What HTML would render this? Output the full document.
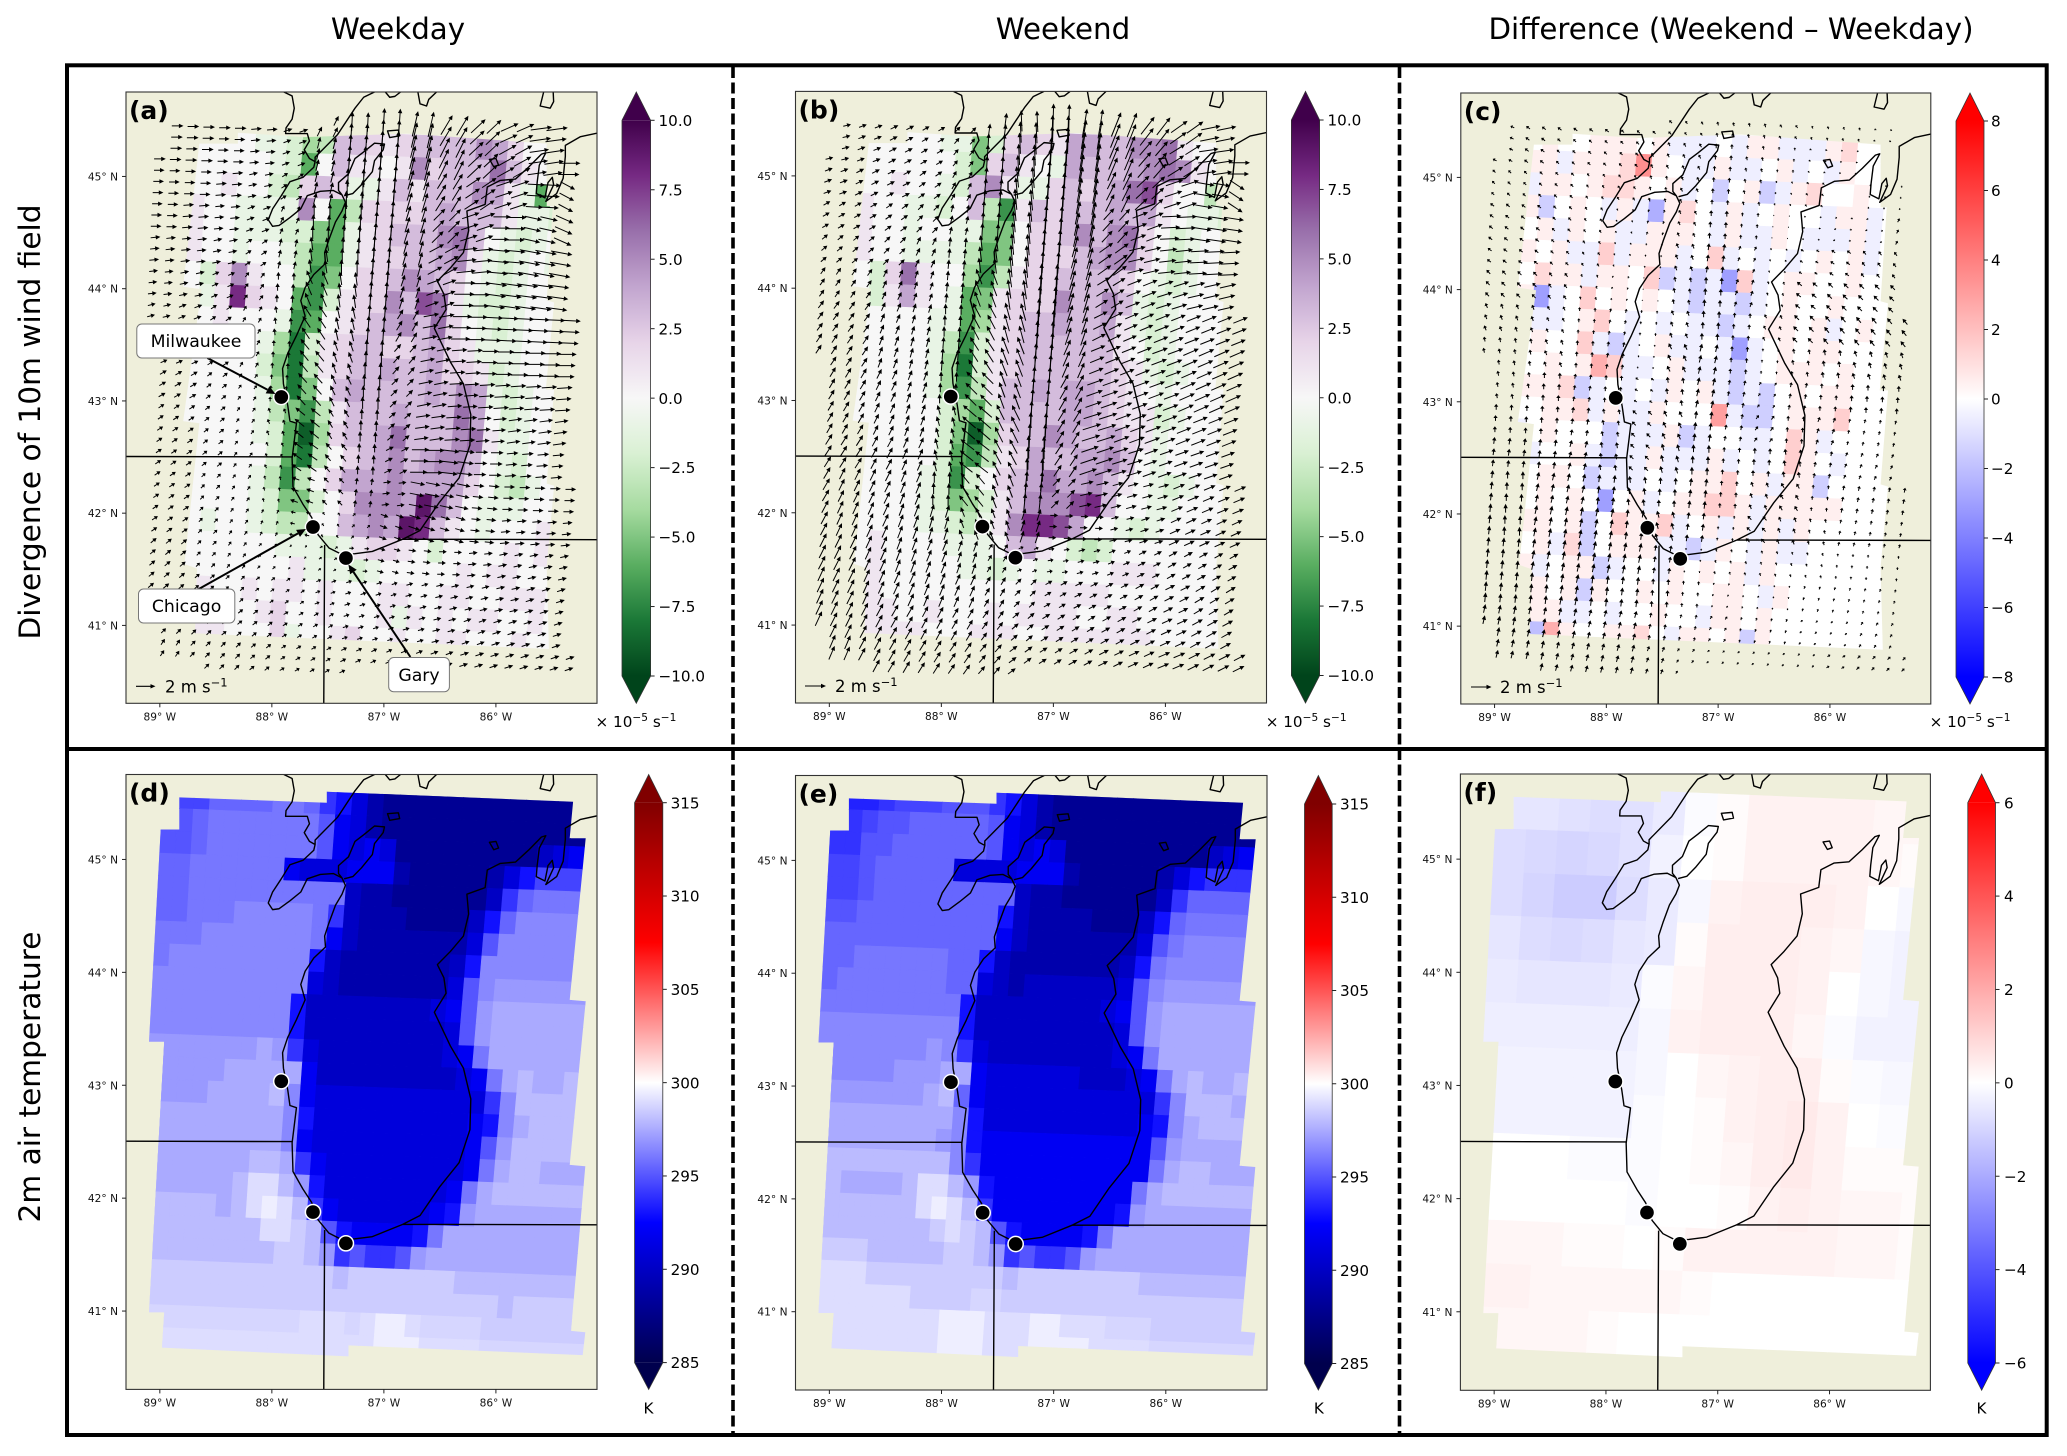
<!DOCTYPE html>
<html lang="en">
<head>
<meta charset="utf-8">
<title>Divergence of 10m wind field and 2m air temperature, weekday versus weekend</title>
<style>
html,body{margin:0;padding:0;background:#fff;width:2067px;height:1456px;overflow:hidden}
svg{display:block;font-family:"DejaVu Sans","Liberation Sans",sans-serif}
</style>
</head>
<body>
<svg id="fig" xmlns="http://www.w3.org/2000/svg" width="2067" height="1456" viewBox="0 0 2067 1456">
<defs>
<path id="coast" fill="none" stroke="#000" stroke-width="1.4" vector-effect="non-scaling-stroke" stroke-linejoin="round" d="M516,33 L535,42 540,70 535,95 521,115 520,128 540,128 570,128 575,145 563,165 575,185 588,192 M725,33 L700,45 680,70 640,130 600,170 588,182 588,192 585,205 560,228 530,238 510,270 490,300 480,325 490,340 505,338 530,320 555,300 570,270 600,260 630,258 650,268 658,285 650,305 635,330 620,370 610,400 612,425 585,450 565,480 555,510 565,545 545,590 525,630 513,665 515,700 525,750 530,785 545,790 540,830 535,870 537,935 560,975 580,1005 595,1045 620,1075 650,1090 680,1088 720,1083 790,1055 830,1035 875,970 920,915 945,840 947,770 930,700 900,650 863,573 890,530 885,495 870,465 900,435 930,400 942,350 938,305 980,290 985,250 1015,235 1050,232 1080,205 1110,175 1120,172 1105,200 1100,240 1098,265 1118,275 1125,240 1135,228 1138,245 1120,283 1145,265 1160,230 1165,180 1165,155 1200,135 1238,127 M650,268 L642,258 642,240 665,220 680,185 700,170 725,150 748,152 745,165 725,190 720,215 695,245 675,265 655,270 M755,122 L780,120 783,133 760,137 Z M750,33 L760,45 772,43 785,33 M825,33 L830,60 845,65 850,50 868,33 M1115,33 L1107,65 1130,70 1138,55 1137,33 M990,187 L1005,185 1011,200 1000,204 Z M152,866 L535,867 M790,1055 L1238,1056 M610,1068 L608,1430"/>
</defs>
<rect width="2067" height="1456" fill="#fff"/>
<text x="398" y="39" font-size="29.3" text-anchor="middle">Weekday</text>
<text x="1063" y="39" font-size="29.3" text-anchor="middle">Weekend</text>
<text x="1731" y="39" font-size="29.3" text-anchor="middle">Difference (Weekend – Weekday)</text>
<text x="0" y="0" font-size="29.6" text-anchor="middle" transform="translate(40,422) rotate(-90)">Divergence of 10m wind field</text>
<text x="0" y="0" font-size="29.6" text-anchor="middle" transform="translate(40,1077) rotate(-90)">2m air temperature</text>
<g id="panels"></g>
<rect x="67" y="65.3" width="1979.7" height="1369.7" fill="none" stroke="#000" stroke-width="4"/>
<line x1="67" y1="749" x2="2046.7" y2="749" stroke="#000" stroke-width="4"/>
<line x1="733" y1="67" x2="733" y2="1433" stroke="#000" stroke-width="3.6" stroke-dasharray="11 4.5"/>
<line x1="1399.5" y1="67" x2="1399.5" y2="1433" stroke="#000" stroke-width="3.6" stroke-dasharray="11 4.5"/>
<g id="annotations"></g>
</svg>
<script>
const latTicks=[45,44,43,42,41];
const lonTicks=[-89,-88,-87,-86];
const divTicks=[10,7.5,5,2.5,0,-2.5,-5,-7.5,-10];
const divDiffTicks=[8,6,4,2,0,-2,-4,-6,-8];
const tempTicks=[315,310,305,300,295,290,285];
const tempDiffTicks=[6,4,2,0,-2,-4,-6];
const cityNames=["Milwaukee","Chicago","Gary"];
const cityLons=[-87.916,-87.633,-87.339];
const cityLats=[43.035,41.877,41.6];

const divWeekday=[
[0,0,0,0,0,0,0,0,0,0,0,0,0,0,0,0,0,0,0,0,0,0,0,0,0,0,0,0,0,0],
[0,0,0,0,0,0,-1,-1,-2,-4,-3,3,3,2,1,2,3,3,3,3,5,4,2,0,0,0,0,0,0,0],
[0,0,0,0,0,0,0,-1,-2,-6,0,3,1,1,0,1,5,2,3,3,3,6,3,1,0,0,0,0,0,0],
[0,0,0,0,1,0,0,-2,-3,2,3,2,-1,-1,1,3,1,3,3,3,5,4,1,-1,-6,0,0,0,0,0],
[0,0,1,0,0,-1,-1,-1,-1,5,0,-6,-3,2,2,2,2,3,4,3,3,3,1,-1,-1,-2,0,0,0,0],
[0,0,1,0,0,-1,-1,-1,-2,-2,-5,-6,-1,1,2,3,3,3,5,6,3,0,-1,-2,-1,0,0,0,0,0],
[0,0,1,0,0,-1,0,0,-1,-3,-6,-6,-1,1,2,2,3,3,4,5,1,-1,-2,-1,0,-1,0,0,0,0],
[0,0,0,-2,2,5,1,0,0,-3,-7,-5,0,2,2,3,5,4,3,2,0,-1,-2,-1,0,0,0,0,0,0],
[0,0,0,-1,1,8,2,1,0,-6,-7,-2,1,2,2,5,3,7,6,1,-1,-2,-2,-1,0,0,0,0,0,0],
[0,0,0,0,1,0,0,0,-1,-7,-6,0,1,2,3,4,5,3,6,2,0,-1,-2,-1,0,0,0,0,0,0],
[0,0,0,0,0,0,0,-1,-4,-8,-2,1,2,3,3,2,2,3,4,2,1,-1,-1,-1,0,0,0,0,0,0],
[0,0,0,0,0,0,0,-2,-5,-8,-3,1,2,3,3,4,3,3,4,2,2,1,-2,-1,0,0,0,0,0,0],
[0,0,0,0,0,0,0,-1,-4,-8,-5,0,3,4,3,3,3,3,4,3,5,4,-1,-2,-1,0,0,0,0,0],
[0,0,0,0,0,0,0,-1,-3,-5,-7,-3,1,3,3,3,4,3,3,3,6,4,0,-2,-1,0,0,0,0,0],
[0,0,0,0,0,0,0,-1,-2,-6,-9,-4,2,3,3,4,6,3,3,3,5,6,1,-1,-1,0,0,0,0,0],
[0,0,0,0,0,0,0,0,-2,-6,-8,-3,0,2,3,4,5,3,4,5,5,3,0,-1,-2,0,0,0,0,0],
[0,0,0,0,0,0,0,-1,-3,-7,-3,0,2,4,4,4,5,4,4,4,4,2,0,-2,-3,-1,0,0,0,0],
[0,0,0,0,0,0,0,-1,-2,-5,-5,-2,0,2,5,5,5,4,9,6,3,0,-1,-1,-1,0,0,0,0,0],
[0,0,0,0,-1,0,0,-1,-2,-3,-3,0,0,3,4,5,4,9,8,3,1,0,-1,0,0,0,1,1,0,0],
[0,0,0,0,0,0,0,0,0,-1,-1,-1,-2,-1,1,2,2,1,0,-2,0,0,0,0,1,0,1,1,0,0],
[0,0,0,0,0,0,0,0,0,0,1,-1,-1,-1,-2,-1,0,0,0,0,0,1,0,1,1,0,0,0,0,0],
[0,0,0,0,1,0,0,1,0,1,1,0,1,0,0,0,1,1,0,0,1,1,0,0,1,1,1,0,0,0],
[0,0,0,0,0,1,0,0,1,2,0,0,1,0,0,0,1,-1,1,0,1,0,1,1,0,0,1,0,0,0],
[0,0,0,0,1,1,0,0,0,2,-1,0,0,1,2,0,0,1,0,0,1,1,0,0,0,1,0,0,0,0],
[0,0,0,0,0,0,0,0,0,0,0,0,0,0,0,0,0,0,0,0,0,0,0,0,0,0,0,0,0,0]];

const divWeekend=[
[0,0,0,0,0,0,0,0,0,0,0,0,0,0,0,0,0,0,0,0,0,0,0,0,0,0,0,0,0,0],
[0,0,0,0,0,0,0,-1,-1,-5,-2,2,3,2,1,4,4,3,3,5,5,6,1,0,0,0,0,0,0,0],
[0,0,0,0,0,0,0,0,-2,-5,2,3,1,0,-1,4,3,3,3,4,5,6,5,1,0,0,0,0,0,0],
[0,0,0,0,1,0,0,-1,-2,3,5,1,-1,-1,2,3,2,3,4,6,7,2,0,0,-3,-1,0,0,0,0],
[0,0,1,0,0,-1,-1,-2,0,3,-3,-7,1,3,2,3,3,3,4,3,4,1,0,-1,-1,-2,-1,0,0,0],
[0,0,1,0,0,-1,0,0,-1,-1,-5,-5,0,2,2,3,5,3,5,6,2,0,-2,-1,0,0,0,0,0,0],
[0,0,1,0,0,-1,-1,-1,-1,-3,-6,-5,0,2,2,2,3,4,5,5,2,0,-3,-1,0,0,0,0,0,0],
[0,0,0,-2,2,6,1,0,0,-4,-7,-3,1,2,2,3,3,3,3,2,0,-1,-2,-1,0,0,0,0,0,0],
[0,0,0,-2,1,4,1,0,-1,-6,-5,1,2,2,2,5,3,3,5,3,-1,-2,-1,0,0,0,0,0,0,0],
[0,0,0,0,0,0,0,-1,-1,-6,-4,1,2,3,3,4,3,3,4,1,-1,-2,-1,0,0,0,0,0,0,0],
[0,0,0,0,0,0,0,-1,-3,-7,-2,1,2,3,3,3,3,3,3,1,0,-2,-1,0,0,0,0,0,0,0],
[0,0,0,0,0,0,0,-1,-4,-8,-2,1,2,3,3,3,3,3,3,2,1,-1,-2,-1,0,0,0,0,0,0],
[0,0,0,0,0,0,0,-1,-4,-7,-3,1,3,3,4,3,4,4,3,2,1,0,-1,0,0,0,0,0,0,0],
[0,0,0,0,0,0,0,0,-2,-4,-6,-2,3,3,3,3,4,4,3,2,1,1,-2,-1,0,0,0,0,0,0],
[0,0,0,0,0,0,0,0,-2,-5,-9,-4,2,3,3,5,4,3,3,4,2,1,-1,0,0,0,0,0,0,0],
[0,0,0,0,0,0,0,0,-2,-6,-7,-3,1,2,4,3,3,4,4,5,3,0,-1,0,0,0,0,0,0,0],
[0,0,0,0,0,0,0,-1,-2,-7,-2,0,2,3,4,6,4,4,5,3,1,0,-1,-2,-1,0,0,0,0,0],
[0,0,0,0,0,0,0,-1,-2,-5,-4,-2,1,3,5,5,5,7,8,3,0,0,-1,-1,0,0,0,0,0,0],
[0,0,0,0,0,0,0,-1,-1,-2,-3,-1,1,5,8,8,7,4,0,0,-1,-2,-1,0,0,0,0,0,0,0],
[0,0,0,0,1,0,0,0,0,-1,-1,-1,0,3,4,1,0,-2,-3,-2,0,0,0,0,0,0,0,0,0,0],
[0,0,0,0,1,0,0,0,0,0,-1,-1,-2,-1,0,-1,-1,0,0,0,1,1,1,0,0,0,0,0,0,0],
[0,0,0,1,1,0,0,0,0,0,0,0,0,0,0,1,1,1,1,1,0,0,0,0,0,0,0,0,0,0],
[0,0,0,1,1,1,0,0,1,0,0,0,1,0,1,1,1,1,0,0,1,1,0,0,0,0,0,0,0,0],
[0,0,0,1,1,1,1,1,0,0,0,1,1,1,0,0,1,1,1,1,1,1,1,0,0,0,0,0,0,0],
[0,0,0,0,0,0,0,0,0,0,0,0,0,0,0,0,0,0,0,0,0,0,0,0,0,0,0,0,0,0]];

const divDifference=[
[0,0,0,0,0,0,0,0,0,0,0,0,0,0,0,0,0,0,0,0,0,0,0,0,0,0,0,0,0,0],
[0,0,0,.5,0,0,.5,.5,.5,0,.5,-.5,-.5,-.5,0,-.5,.5,.5,-.5,-.5,-.5,.5,1.2,0,0,0,0,0,0,0],
[0,0,.5,.5,-.5,.5,.5,.5,1.2,3.5,.5,0,-.5,-.5,.5,-.5,-.5,0,.5,-.5,0,-.5,.5,0,0,0,0,0,0,0],
[0,.5,-.5,.5,.5,0,.5,1.2,1.2,.5,0,.5,-.5,0,-1.5,0,.5,-1.5,-.5,.5,1.2,0,0,.5,0,0,0,0,0,0],
[0,-.5,.5,-1.5,0,.5,0,-.5,.5,-.5,-2.5,.5,1.2,0,-.5,.5,-.5,0,.5,0,0,-.5,.5,.5,-.5,0,0,0,0,0],
[.5,.5,0,.5,-.5,.5,0,.5,-.5,-.5,.5,.5,.5,0,-.5,.5,-.5,-.5,.5,0,-.5,-.5,-.5,.5,-.5,0,0,0,0,0],
[.5,.5,.5,0,.5,-.5,-.5,1.5,-.5,.5,.5,.5,-.5,0,1.5,-.5,0,-.5,0,-.5,0,.5,0,.5,-.5,0,0,0,0,0],
[.5,.5,0,1.2,.5,.5,-.5,.5,.5,0,1.5,-1.5,-.5,-1.5,-.5,-3,1.5,-.5,0,.5,.5,0,0,.5,0,0,0,0,0,0],
[-.5,.5,.5,-3,-.5,0,1.5,0,.5,0,.5,0,-.5,-1.5,-.5,-.5,-1.5,-.5,0,.5,0,0,.5,0,0,0,0,0,0,0],
[-.5,1.5,.5,-.5,-.5,0,.5,1.5,0,-.5,0,-.5,0,-.5,-.5,-1.5,-.5,0,.5,.5,0,.5,-.5,0,.5,0,0,0,0,0],
[-.5,.5,0,.5,0,0,1.5,-.5,-1.5,-.5,0,.5,-.5,-.5,0,-.5,-3,-.5,0,.5,0,.5,.5,0,0,0,0,0,0,0],
[1.5,.5,0,0,.5,0,.5,2.5,1.5,-.5,-.5,0,.5,-.5,-.5,-.5,-1.5,-.5,0,.5,.5,.5,0,.5,0,0,0,0,0,0],
[.5,.5,.5,.5,.5,1.2,-1.5,-.5,0,-.5,0,-.5,.5,0,.5,-.5,-1.5,-.5,-1.5,0,.5,0,.5,.5,0,0,0,0,0,0],
[-.5,.5,0,0,.5,.5,1.2,-.5,.5,-.5,-.5,.5,0,0,0,3,-.5,-1.5,-1.5,0,.5,.5,.5,1.5,0,0,0,0,0,0],
[0,.5,-.5,0,.5,0,0,0,-1.5,-.5,-.5,-.5,.5,-1.5,-.5,0,0,-.5,-.5,0,1.5,.5,-.5,0,0,0,0,0,0,0],
[0,0,.5,-.5,0,0,.5,-.5,-1.5,-.5,-.5,.5,-.5,-.5,-.5,.5,-.5,0,-.5,0,1.5,.5,0,-.5,0,0,0,0,0,0],
[0,.5,0,0,.5,.5,0,-1.5,-.5,-.5,-.5,0,-.5,0,.5,.5,1.5,0,.5,-.5,.5,.5,-1.5,0,0,0,0,0,0,0],
[.5,.5,-.5,0,.5,0,.5,0,-3,0,.5,-.5,0,.5,.5,1.5,1.5,.5,-.5,.5,.5,.5,.5,.5,0,0,0,0,0,0],
[1.5,.5,0,.5,.5,0,.5,-1.5,0,1.5,.5,.5,1.5,-.5,0,.5,-.5,.5,-.5,.5,-.5,.5,0,0,0,0,0,0,0,0],
[2,.5,-.5,0,.5,-.5,1.2,-1.5,0,.5,.5,.5,-.5,-.5,-1.5,-.5,.5,0,-.5,.5,-.5,-.5,0,0,0,0,0,0,0,0],
[.5,0,0,.5,-.5,0,.5,.5,-1.5,-.5,0,0,-.5,.5,0,.5,0,.5,-.5,.5,0,0,0,0,0,0,0,0,0,0],
[1.5,.5,1.5,0,.5,0,.5,-1.5,.5,0,0,.5,0,.5,0,0,.5,.5,0,-.5,.5,0,0,0,0,0,0,0,0,0],
[.5,0,.5,0,.5,.5,-.5,-.5,0,-.5,0,0,.5,0,0,-.5,.5,.5,0,.5,0,0,0,0,0,0,0,0,0,0],
[.5,2.5,0,0,-2,2.5,.5,0,0,.5,.5,1.2,0,-.5,.5,.5,0,.5,-1.5,.5,0,0,0,0,0,0,0,0,0,0],
[0,0,0,0,0,0,0,0,0,0,0,0,0,0,0,0,0,0,0,0,0,0,0,0,0,0,0,0,0,0]];

const tempWeekday=[
[295,294.5,294.5,295.5,295.5,295.5,295.5,296,296,295.5,294,293,291,289,288,288,288,288,288,288,288,288,288,288,288,288,288,288,288,288],
[295,295,295.5,296,296,296,296,296,296,296,295,292,291,289,288,288,288,288,288,288,288,288,288,288,288,288,288,288,288,288],
[295,295,295.5,296,296,296,296,296,296,296,295,292,291,292,291,288,288,288,288,288,288,288,288,288,290,291,292,292,292,292],
[295.5,295.5,296,296,296,296,296,296,292,291,291,291,292,292,292,289,288,288,288,288,288,289,291,293,294.5,294.5,294.5,293,293,293],
[295.5,295.5,296,296,296,296,296,296,296,296,296,296,290,289,289,288,288,288,288,288,288,290,294,295.5,296,296,296,296,296,296],
[295.5,295.5,296,296,296,296.5,296.5,296.5,296.5,296.5,296,294,290,289,289,289,288,288,288,288,290,293,295.5,296.5,296.5,296.5,296.5,296.5,296.5,296.5],
[296,296,296,296.5,296.5,296.5,296.5,296.5,296.5,296.5,296,292,290,289,289,289,289,289,289,289,291,295,296.5,296.5,296.5,296.5,296.5,296.5,296.5,296.5],
[296,296.5,296.5,296.5,296.5,296.5,296.5,296.5,296.5,296.5,293,290,289,289,289,289,289,289,289,290,293,296.5,296.5,296.5,296.5,296.5,296.5,296.5,296.5,296.5],
[296.5,296.5,296.5,296.5,296.5,296.5,296.5,296.5,296.5,296.5,291,290,289,289,289,289,289,289,289,291,295,296.5,297,297,297,297,297,297,297,297],
[296.5,296.5,296.5,296.5,296.5,296.5,296.5,296.5,296.5,293,290,290,290,290,290,290,290,290,291,292,295,297,297.5,297.5,297.5,297.5,297.5,297.5,297.5,297.5],
[296.5,296.5,296.5,296.5,296.5,296.5,296.5,296.5,296.5,293,290,290,290,290,290,290,290,290,290,291,295,297,297.5,297.5,297.5,297.5,297.5,297.5,297.5,297.5],
[297,297,297,297,297,297,297,297.5,297,294,291,290,290,290,290,290,290,290,290,291,292,296,297.5,297.5,297.5,297.5,297.5,297.5,297.5,297.5],
[297,297,297,297,297,297.5,297.5,297.5,297.5,297.5,292,290,290,290,290,290,290,290,290,290,291,292,296,297.5,298,297.5,297.5,298,297.5,297.5],
[297,297,297,297,297.5,297.5,297.5,297.5,298,296.5,292,291,291,291,291,291,291,291,291,291,291,291,294,296.5,298,298,298,298,297.5,297.5],
[297.5,297.5,297.5,297.5,297.5,297.5,297.5,297.5,297.5,296.5,293,291,291,291,291,291,291,291,291,291,291,292,293,296.5,297.5,298,298,298,297.5,297.5],
[297.5,297.5,297.5,297.5,297.5,297.5,297.5,297.5,297.5,296.5,292,291,291,291,291,291,291,291,291,291,291,292,295,297,298,298,298,298,297.5,297.5],
[297.5,297.5,297.5,297.5,297.5,297.5,297.5,298,298,297.5,294,292,291,291,291,291,291,291,291,291,291,292,296,297.5,298,298,297.5,297.5,297.5,297.5],
[298,297.5,297.5,297.5,297.5,297.5,298,299,299,298,297,293,291,291,291,291,291,291,291,291,292,296,297.5,298,298,298,298,298,298,298],
[298,298,298,298,298,297.5,298,299,299.5,299,298,294,292,291,291,291,291,291,291,292,293,297,297.5,297.5,297.5,297.5,297.5,297.5,297.5,297.5],
[298,298,298,298,298,298,298,298,299,299,298.5,298,295,293,292,292,292,292,293,296,297.5,297.5,297.5,297.5,297.5,297.5,297.5,297.5,297.5,297.5],
[298,298,298,298,298,298,298,298,298,298.5,298.5,298,297,294,295,294,294,295,297,297.5,297.5,297.5,297.5,297.5,297.5,297.5,297.5,297.5,297.5,297.5],
[298.5,298.5,298.5,298.5,298.5,298.5,298.5,298.5,298.5,298.5,298.5,298.5,298.5,298,298.5,298.5,298.5,298.5,298.5,298.5,298.5,298,298,298,298,298,298,298,298,298],
[298.5,298.5,298.5,298.5,298.5,298.5,298.5,298.5,298.5,298.5,298.5,298.5,298.5,298.5,298.5,298.5,298.5,298.5,298.5,298.5,298.5,298.5,298.5,298.5,298,298.5,298.5,298.5,298.5,298.5],
[298.8,298.8,298.8,298.8,298.8,298.8,298.8,298.8,298.8,298.8,298.8,299,299,299,298.8,299,299.5,299.5,299,298.8,298.8,298.8,298.8,298.5,298.5,298.5,298.5,298.5,298.5,298.5],
[299,299,299,299,299,299,299,299,299,299,299,299,299,299,299,299,299.5,299.5,299.5,299,299,299,299,298.8,298.8,298.8,298.8,298.8,298.8,298.8]];

const tempWeekend=[
[294.5,293.5,293.5,294,294.5,294.5,294.5,295,295,295,294,293,291,289,288,288,288,288,288,288,288,288,288,288,288,288,288,288,288,288],
[294,294,294.5,295,295,295.5,295.5,295.5,295.5,295.5,295,292,291,289,288,288,288,288,288,288,288,288,288,288,288,288,288,288,288,288],
[294,294,295,295,295.5,295.5,295.5,295.5,295.5,295.5,295,292,291,292,291,288,288,288,288,288,288,288,288,288,290,291,292,292,292,292],
[294.5,294.5,295,295.5,295.5,295.5,295.5,295.5,291,291,291,291,292,292,292,289,288,288,288,288,288,289,291,293,294,294,294,293,293,293],
[294.5,294.5,295,295.5,295.5,295.5,295.5,295.5,295.5,295.5,295.5,295.5,290,289,289,288,288,288,288,288,288,290,294,295.5,295.5,295.5,295.5,295.5,295.5,295.5],
[295,295,295.5,295.5,295.5,295.5,295.5,295.5,295.5,295.5,295.5,293,290,289,289,289,289,288,288,288,290,293,295.5,296,296,296,296,296,296,296],
[295.5,295.5,295.5,295.5,295.5,295.5,295.5,295.5,295.5,295.5,295.5,292,290,289,289,289,289,289,289,289,291,295,296,296.5,296.5,296.5,296.5,296.5,296.5,296.5],
[295.5,295.5,296,296,296,296,296,296,295.5,295.5,293,290,289,289,289,289,289,289,289,290,293,296,296.5,296.5,296.5,296.5,296.5,296.5,296.5,296.5],
[295.5,296,296,296,296,296,296,296,295.5,295.5,291,290,289,290,290,290,290,290,290,291,295,296.5,297,297,297,297,297,297,297,297],
[296,296,296,296,296,296,296,296,296,293,290,290,290,290,290,290,290,290,291,292,295,297,297.5,297.5,297.5,297.5,297.5,297.5,297.5,297.5],
[296.5,296.5,296.5,296.5,296.5,296.5,296.5,296.5,296.5,293,290,290,290,290,290,290,290,290,290,291,295,297,297.5,297.5,297.5,297.5,297.5,297.5,297.5,297.5],
[296.5,296.5,296.5,296.5,296.5,296.5,296.5,297,296.5,294,291,290,290,290,290,290,290,290,290,291,292,296,297.5,297.5,297.5,297.5,297.5,297.5,297.5,297.5],
[296.5,296.5,296.5,296.5,296.5,297,297,297,297.5,297.5,292,291,291,291,291,291,291,290,290,290,291,292,296,297.5,298,297.5,297.5,298,297.5,297.5],
[297,297,297,297,297,297,297,297.5,298,295.5,292,291,291,291,291,291,291,291,291,291,291,291,294,296.5,298,298,298,297.5,297.5,297.5],
[297.5,297.5,297.5,297.5,297.5,297.5,297.5,297.5,297.5,296.5,293,291,291,291,291,291,291,291,291,291,291,292,293,296.5,297.5,298,298,298,297.5,297.5],
[297.5,297.5,297.5,297.5,297.5,297.5,297.5,297.5,297,296.5,293,292,292,292,292,292,292,292,292,292,292,292,295,297,297.5,297.5,297.5,297.5,297.5,297.5],
[298,298,298,298,298,298,298,298,298,296.5,294,292,292,292,292,292,292,292,292,292,292,292,296,297.5,298,298,297.5,297.5,297.5,297.5],
[298,298,297.5,297.5,297.5,297.5,298,299,299,298,297,293,292,292,292,292,292,292,292,292,292,296,297.5,298,298,298,298,298,298,298],
[298,298,298,298,298,298,298,299,299.5,299,298,294,292,292,292,292,292,292,292,292,293,297,297.5,297.5,297.5,297.5,297.5,297.5,297.5,297.5],
[298,298,298,298,298,298,298,298,298.5,299,298.5,298,295,293,292,292,292,292,293,296,297.5,297.5,297.5,297.5,297.5,297.5,297.5,297.5,297.5,297.5],
[298.5,298.5,298.5,298.5,298,298,298,298,298,298.5,298.5,298,297,294,295,294,294,295,297,297.5,297.5,297.5,297.5,297.5,297.5,297.5,297.5,297.5,297.5,297.5],
[299,299,299,299,298.5,298.5,298.5,298.5,298.5,298.5,298.5,298.5,298.5,298,298.5,298.5,298.5,298.5,298.5,298.5,298.5,298.5,298,298,298,298,298,298,298,298],
[299,299,299,299,299,299,299,298.5,298.5,298.5,298.5,298.8,298.8,298.5,298.5,298.5,298.5,298.5,298.5,298.5,298.5,298.5,298.5,298.5,298.5,298.5,298.5,298.5,298.5,298.5],
[299,299,299,299,299,299,299,299,299,299.5,299.5,299.5,299,299,299,299.5,299.5,299,299,299,298.8,298.8,298.8,298.5,298.5,298.5,298.5,298.5,298.5,298.5],
[299,299,299,299,299,299,299,299,299,299.5,299.5,299.5,299,299,299,299.5,299.5,299.5,299.5,299,299,299,299,298.8,298.8,298.8,298.8,298.8,298.8,298.8]];

const tempDifference=[
[-.6,-.6,-.7,-.8,-.7,-.5,-.1,.1,.3,.3,.3,.3,.2,.2,.1],
[-.8,-.9,-1,-.9,-.7,-.3,0,.1,.3,.3,.3,.3,.2,.1,0],
[-.8,-1,-1.2,-1.2,-.8,-.5,-.2,.3,.4,.4,.4,.3,0,-.2,-.2],
[-.6,-.8,-.9,-.8,-.6,-.5,.1,.4,.4,.4,.3,.2,-.2,-.3,-.3],
[-.5,-.6,-.6,-.6,-.5,-.1,.2,.4,.4,.4,.3,0,-.2,-.3,-.3],
[-.4,-.4,-.4,-.4,-.4,-.2,.3,.4,.4,.4,.2,-.1,-.3,-.3,-.2],
[-.3,-.3,-.3,-.3,-.3,-.2,0,.2,.3,.4,.4,.1,-.1,-.2,-.1],
[-.3,-.3,-.3,-.3,-.3,-.1,0,.1,.3,.4,.5,.3,0,-.1,-.1],
[0,0,0,-.1,-.1,-.1,0,.1,.2,.4,.5,.3,.1,.1,.1],
[0,0,0,0,0,-.1,0,0,.1,.3,.4,.3,.2,.2,.1],
[.2,.2,.2,.1,.1,0,.1,.3,.3,.3,.3,.3,.2,.2,.1],
[.3,.3,.2,.2,.2,.2,.2,.1,0,0,0,0,0,0,0],
[.2,.2,.2,.2,.1,0,0,0,0,0,0,0,0,0,0]];

const windWeekdayU=[
[12,12,12,11,9,5,1,2,6,12,15,18,22,24,24,24],
[12,12,11,10,8,3,1,2,6,10,15,18,20,22,22,22],
[11,11,11,9,6,3,0,2,6,10,15,18,18,15,15,15],
[11,11,10,8,3,0,0,2,5,12,18,18,18,18,18,18],
[10,10,9,6,2,-2,0,1,4,15,20,22,22,22,22,22],
[9,9,7,4,0,-6,-2,1,4,14,21,22,22,22,22,22],
[8,8,6,3,-1,-8,-3,1,6,16,20,20,20,20,20,20],
[7,7,6,3,0,-9,-4,0,7,15,16,17,18,18,18,18],
[7,7,5,3,0,-9,-5,0,7,15,15,16,16,16,16,16],
[6,6,5,3,-2,-10,-5,0,7,15,16,14,14,14,14,14],
[6,6,5,3,-2,-10,-6,0,8,18,17,13,12,12,12,12],
[6,6,4,3,-1,-8,-5,1,8,15,14,11,11,11,11,11],
[6,6,4,3,2,-5,-2,3,8,12,10,10,10,10,10,10],
[6,6,4,3,3,2,3,5,7,8,8,9,9,9,9,9],
[6,6,5,4,4,4,5,6,6,7,8,8,9,9,9,9],
[5,5,5,5,5,5,5,6,6,7,8,8,9,9,9,9],
[4,4,5,5,5,5,5,6,6,7,8,9,9,9,9,9]];
const windWeekdayV=[
[0,0,0,1,3,10,20,30,26,20,14,8,3,1,1,1],
[0,0,0,1,3,12,20,30,24,20,14,10,3,0,0,0],
[0,0,1,2,4,12,19,28,20,16,10,6,-1,-8,-10,-12],
[0,1,1,3,6,14,18,25,16,12,6,0,-4,-8,-8,-8],
[1,1,2,4,8,14,16,22,14,8,2,-2,-4,-4,-4,-4],
[1,2,3,5,8,14,14,20,12,5,0,-3,-3,-3,-3,-3],
[2,3,4,5,7,12,13,18,10,3,0,-1,-1,-1,-1,-1],
[3,3,4,5,6,11,11,15,8,3,1,0,0,0,0,0],
[4,4,4,4,5,10,10,13,7,3,1,1,1,1,1,1],
[4,4,4,4,5,8,8,11,6,2,1,1,2,2,2,2],
[4,4,4,4,4,7,7,9,4,0,-2,0,1,1,1,1],
[4,4,4,4,4,3,5,7,1,-3,-3,-1,0,0,0,0],
[4,4,4,4,4,1,3,3,-3,-4,-3,-1,1,1,1,1],
[5,5,4,4,3,2,2,0,-2,-1,0,1,2,2,2,2],
[5,5,4,4,3,3,2,2,2,2,2,2,2,3,3,3],
[6,5,5,4,4,3,3,2,2,2,2,3,3,3,3,3],
[6,6,5,5,4,3,3,3,3,3,3,3,3,3,3,3]];
const windWeekendU=[
[8,8,8,7,6,2,-1,1,5,10,14,17,20,22,22,22],
[8,8,8,7,5,1,-1,2,5,10,13,16,20,22,22,22],
[8,8,8,7,4,2,-2,2,5,9,13,18,18,15,15,15],
[7,7,7,6,2,1,-2,2,5,11,16,20,20,20,20,20],
[6,6,6,4,1,-2,-2,2,6,14,17,18,19,19,19,19],
[5,5,4,3,1,-6,-3,1,6,13,15,16,17,17,17,17],
[6,6,4,3,0,-8,-5,1,6,14,14,15,15,15,15,15],
[6,6,4,3,1,-9,-7,2,7,15,15,16,16,16,16,16],
[6,6,5,4,0,-12,-6,2,8,17,16,16,16,16,16,16],
[6,6,5,4,-3,-14,-8,1,8,19,16,16,15,15,15,15],
[7,7,6,5,-3,-14,-8,0,8,18,16,14,14,14,14,14],
[7,6,6,5,0,-9,-5,2,8,13,11,11,12,12,12,12],
[7,6,6,5,4,-4,-4,4,8,8,8,9,11,11,11,11],
[7,7,6,5,5,4,4,5,6,7,7,8,9,9,9,9],
[7,7,6,6,5,5,5,6,7,8,8,9,10,10,10,10],
[7,7,7,7,6,6,6,7,8,8,9,10,11,11,11,11],
[6,6,7,7,7,7,7,8,8,9,10,11,12,12,12,12]];
const windWeekendV=[
[2,3,4,4,6,15,22,38,30,25,18,12,4,1,1,1],
[2,3,4,4,6,18,22,38,28,24,15,10,3,0,0,0],
[3,4,4,5,7,18,22,36,26,18,12,6,-3,-10,-10,-10],
[4,4,5,6,8,18,22,36,24,12,6,1,-3,-3,-3,-3],
[5,5,6,8,10,16,22,34,22,10,4,2,1,1,1,1],
[7,7,8,8,10,16,20,32,20,8,6,5,4,4,4,4],
[8,8,9,9,11,15,18,30,18,7,6,6,6,6,6,6],
[9,9,10,10,12,14,18,30,16,6,6,6,7,7,7,7],
[10,10,10,10,10,12,16,28,14,6,6,6,7,7,7,7],
[10,10,10,10,10,12,16,26,13,6,6,6,6,6,6,6],
[11,11,11,11,11,11,15,24,12,6,5,5,5,5,5,5],
[12,12,12,12,12,11,13,20,8,3,3,3,5,5,5,5],
[13,13,13,13,13,10,10,12,0,0,2,3,5,5,5,5],
[14,14,13,13,12,11,6,2,1,2,3,4,5,5,5,5],
[15,14,13,13,12,11,8,6,4,4,4,5,5,6,6,6],
[15,14,13,12,11,10,8,6,5,5,5,5,5,6,6,6],
[14,14,13,12,11,10,8,6,5,5,5,5,5,6,6,6]];
const windDiffU=[
[-4,-4,-4,-4,-3,-3,-2,-1,-1,-2,-1,-1,-2,-2,-2,-2],
[-4,-4,-3,-3,-3,-2,-2,0,-1,0,-2,-2,0,0,0,0],
[-3,-3,-3,-2,-2,-1,-2,0,-1,-1,-2,0,0,0,0,0],
[-4,-4,-3,-2,-1,1,-2,0,0,-1,-2,2,2,2,2,2],
[-4,-4,-3,-2,-1,0,-2,1,2,-1,-3,-4,-3,-3,-3,-3],
[-4,-4,-3,-1,1,0,-1,0,2,-1,-5,-5,-5,-5,-5,-5],
[-2,-2,-2,0,1,0,-2,0,0,-2,-5,-5,-5,-5,-5,-5],
[-1,-1,-2,0,1,0,-3,2,0,0,-1,-1,-2,-2,-2,-2],
[-1,-1,0,1,0,-3,-1,2,1,2,1,0,0,0,0,0],
[0,0,0,1,-1,-4,-3,1,1,3,0,2,1,1,1,1],
[1,1,1,2,-1,-4,-2,0,0,0,-1,1,2,2,2,2],
[1,0,2,2,1,-1,0,1,0,-2,-3,0,1,1,1,1],
[1,0,2,2,2,1,-2,1,0,-4,-2,-1,1,1,1,1],
[1,1,2,2,2,2,1,0,-1,-1,-1,-1,0,0,0,0],
[1,1,1,2,1,1,0,0,1,1,0,1,1,1,1,1],
[2,2,2,2,2,2,1,1,2,1,1,2,2,2,2,2],
[2,2,2,2,2,2,2,2,2,2,2,2,3,3,3,3]];
const windDiffV=[
[2,3,3,3,3,3,3,4,4,3,3,3,1,0,0,0],
[2,3,3,3,3,4,4,5,4,3,1,0,0,0,0,0],
[3,3,3,3,3,4,4,5,4,2,2,0,-2,-2,0,2],
[3,3,3,3,2,3,4,6,4,0,0,1,1,4,4,4],
[3,3,3,3,2,2,5,7,4,2,2,3,4,4,4,4],
[4,4,4,3,2,1,5,7,5,3,4,5,5,5,5,5],
[5,5,4,4,4,3,5,7,5,4,5,6,6,6,6,6],
[5,5,5,5,5,2,6,8,5,3,5,6,6,6,6,6],
[5,5,6,5,5,2,6,8,5,3,5,5,6,6,6,6],
[6,6,6,6,5,4,6,8,5,4,5,5,4,4,4,4],
[7,7,7,7,6,4,7,8,5,6,6,5,4,4,4,4],
[8,8,8,8,8,7,7,8,5,5,5,4,5,5,5,5],
[9,9,9,9,9,8,7,7,3,4,5,4,4,4,4,4],
[9,9,9,9,9,9,6,2,3,3,3,3,3,3,3,3],
[10,9,9,9,9,8,6,4,2,2,2,3,3,3,3,3],
[9,9,8,8,7,7,5,4,3,3,3,2,2,3,3,3],
[8,8,8,7,7,7,5,3,2,2,2,2,2,3,3,3]];

/* colour maps */
const cmapPRGn=[[0,[0,68,27]],[.1,[27,120,55]],[.2,[90,174,97]],[.3,[166,219,160]],[.4,[217,240,211]],[.5,[247,247,247]],[.6,[231,212,232]],[.7,[194,165,207]],[.8,[153,112,171]],[.9,[118,42,131]],[1,[64,0,75]]];
const cmapBwr=[[0,[0,0,255]],[.5,[255,255,255]],[1,[255,0,0]]];
const cmapSeismic=[[0,[0,0,77]],[.25,[0,0,255]],[.5,[255,255,255]],[.75,[255,0,0]],[1,[128,0,0]]];

/* figure layout (base-map outlines in map-trace units) */
const tempOutline=[275,85,615,97,615,72,1183,95,1175,178,1212,178,1175,545,1212,548,1175,920,1211,923,1178,1297,1211,1300,1205,1352,665,1330,665,1355,235,1335,240,1255,205,1255,240,640,205,640,232,158,275,158];
const divOutline=[321,151,410,151,410,126,562,136,800,128,1122,151,1122,294,1136,294,1122,509,1139,514,1120,713,1139,713,1122,928,1139,933,1122,1117,1127,1306,311,1270,316,1122,287,1112,321,790,284,785,326,484,284,478];

const panels=[
{id:'a',x0:126,x1:597,y0:92,y1:703.3,cells:divWeekday,cmap:cmapPRGn,vmin:-10,vmax:10,outline:divOutline,u:windWeekdayU,v:windWeekdayV,cb:[622,650.6,92,120.3,676,703.3],ticks:divTicks,fmt:1,tickX:658.5,unitX:595.5,keyX:[136,155.5],keyT:165},
{id:'b',x0:795.5,x1:1266.5,y0:91.4,y1:703,cells:divWeekend,cmap:cmapPRGn,vmin:-10,vmax:10,outline:divOutline,u:windWeekendU,v:windWeekendV,cb:[1291.4,1319.6,91.4,120,675.5,703],ticks:divTicks,fmt:1,tickX:1327.5,unitX:1265.7,keyX:[805,826],keyT:835},
{id:'c',x0:1460.8,x1:1930.8,y0:93,y1:704,cells:divDifference,cmap:cmapBwr,vmin:-8,vmax:8,outline:divOutline,u:windDiffU,v:windDiffV,cb:[1956,1984,93,121,677,704],ticks:divDiffTicks,fmt:0,tickX:1991,unitX:1929.6,keyX:[1471,1491.5],keyT:1500},
{id:'d',x0:126,x1:597,y0:774.5,y1:1389.4,cells:tempWeekday,cmap:cmapSeismic,vmin:285,vmax:315,outline:tempOutline,cb:[634.6,662.8,774.5,802.7,1362.6,1389.4],ticks:tempTicks,fmt:0,tickX:670.6,unitK:648.5},
{id:'e',x0:795.5,x1:1267,y0:775.5,y1:1390,cells:tempWeekend,cmap:cmapSeismic,vmin:285,vmax:315,outline:tempOutline,cb:[1304.5,1332.2,775.5,804,1363.5,1390],ticks:tempTicks,fmt:0,tickX:1340,unitK:1318.8},
{id:'f',x0:1460.4,x1:1930.4,y0:774,y1:1390.3,cells:tempDifference,cmap:cmapBwr,vmin:-6,vmax:6,outline:tempOutline,cb:[1967.8,1995.5,774,802.7,1363,1390.3],ticks:tempDiffTicks,fmt:0,tickX:2004,unitK:1981.5}
];

const NS='http://www.w3.org/2000/svg';
function make(tag,attrs,parent){
  const el=document.createElementNS(NS,tag);
  for(const k in attrs)el.setAttribute(k,attrs[k]);
  if(parent)parent.appendChild(el);
  return el;
}
function colorAt(cmap,t){
  t=Math.max(0,Math.min(1,t));
  for(let i=1;i<cmap.length;i++){
    if(t<=cmap[i][0]){
      const a=cmap[i-1],b=cmap[i],f=(t-a[0])/(b[0]-a[0]);
      return 'rgb('+[0,1,2].map(j=>Math.round(a[1][j]+(b[1][j]-a[1][j])*f)).join(',')+')';
    }
  }
  return 'rgb('+cmap[cmap.length-1][1].join(',')+')';
}
/* grid geometry: fractional column/row to map-trace units */
const GRID_COLS=30,GRID_ROWS=50;
function gridPoint(c,r){
  const y=58+r*25.6+1.37*c;
  const x0=237.5-.057*(y-59);
  const w=36.4-.00134*(y-178);
  return [x0+c*w,y];
}
function inPoly(p,poly){
  let inside=false;const n=poly.length/2;
  for(let i=0,j=n-1;i<n;j=i++){
    const xi=poly[2*i],yi=poly[2*i+1],xj=poly[2*j],yj=poly[2*j+1];
    if((yi>p[1])!==(yj>p[1])&&p[0]<(xj-xi)*(p[1]-yi)/(yj-yi)+xi)inside=!inside;
  }
  return inside;
}
const root=document.getElementById('panels');

panels.forEach(p=>{
  const sx=(p.x1-p.x0)/(1238-152),sy=(p.y1-p.y0)/(1430-33);
  const px=z=>p.x0+(z-152)*sx, py=z=>p.y0+(z-33)*sy;
  const lonX=lon=>px(230+258.3*(lon+89));
  const latY=lat=>py(226+256.5*(45-lat));

  const g=make('g',{},root);
  
  

  const bg=make('rect',{x:p.x0,y:p.y0,width:p.x1-p.x0,height:p.y1-p.y0,fill:'#efefdb'},g);
  
  

  const cpMap=make('clipPath',{id:'map-'+p.id},g);
  make('rect',{x:p.x0,y:p.y0,width:p.x1-p.x0,height:p.y1-p.y0},cpMap);
  const cpData=make('clipPath',{id:'data-'+p.id},g);
  const pts=[];
  for(let i=0;i<p.outline.length;i+=2)pts.push(px(p.outline[i]).toFixed(1)+','+py(p.outline[i+1]).toFixed(1));
  make('polygon',{points:pts.join(' ')},cpData);

  /* heatmap */
  const hm=make('g',{'clip-path':'url(#data-'+p.id+')'},g);
  
  
  const nr=p.cells.length,nc=p.cells[0].length;
  const cw=GRID_COLS/nc,rh=GRID_ROWS/nr;
  for(let r=0;r<nr;r++)for(let c=0;c<nc;c++){
    const val=p.cells[r][c];
    if(val===null)continue;
    const q=[gridPoint(c*cw,r*rh),gridPoint((c+1)*cw,r*rh),gridPoint((c+1)*cw,(r+1)*rh),gridPoint(c*cw,(r+1)*rh)];
    const col=colorAt(p.cmap,(val-p.vmin)/(p.vmax-p.vmin));
    const cell=make('polygon',{points:q.map(a=>px(a[0]).toFixed(1)+','+py(a[1]).toFixed(1)).join(' '),fill:col,stroke:col,'stroke-width':.6},hm);
    
    
  }

  /* coast */
  const cg=make('g',{'clip-path':'url(#map-'+p.id+')'},g);
  
  
  const use=make('use',{href:'#coast',transform:'translate('+(px(0)).toFixed(2)+','+(py(0)).toFixed(2)+') scale('+sx.toFixed(5)+','+sy.toFixed(5)+')'},cg);
  
  

  /* wind arrows */
  if(p.u){
    const ag=make('g',{fill:'#000','clip-path':'url(#map-'+p.id+')'},g);
    
    
    const K=.97;
    for(let r=1;r<=50;r++)for(let c=0;c<=31;c++){
      if(!inPoly(gridPoint(c+.3,r-.2),tempOutline))continue;
      const br=Math.min(p.u.length-1,Math.floor(r/3)),bc=Math.min(p.u[0].length-1,Math.floor(c/2));
      const u=p.u[br][bc],v=p.v[br][bc];
      const L=Math.hypot(u,v)*K;
      if(L<.5)continue;
      const g0=gridPoint(c,r),cx=px(g0[0]),cy=py(g0[1]);
      const ax=u*K/L,ay=-v*K/L,nx=-ay,ny=ax;
      const tx=cx-ax*L/2,ty=cy-ay*L/2,hx=cx+ax*L/2,hy=cy+ay*L/2;
      const hl=Math.min(L*.5,4.6),hw=Math.min(2.2,L*.25+.7),sw=.5;
      const bx=hx-ax*hl,by=hy-ay*hl;
      const d=[[tx+nx*sw,ty+ny*sw],[bx+nx*sw,by+ny*sw],[bx+nx*hw,by+ny*hw],[hx,hy],[bx-nx*hw,by-ny*hw],[bx-nx*sw,by-ny*sw],[tx-nx*sw,ty-ny*sw]];
      const a=make('path',{d:'M'+d.map(q=>q[0].toFixed(1)+' '+q[1].toFixed(1)).join('L')+'Z'},ag);
      
      
    }
    /* quiver key */
    const ky=p.y1-17;
    const kl=make('line',{x1:p.keyX[0],y1:ky,x2:p.keyX[1]-3,y2:ky,stroke:'#000','stroke-width':1.1},g);
    
    
    const kh=make('path',{d:'M'+p.keyX[1]+' '+ky+'l-5 -2.2v4.4z',fill:'#000'},g);
    
    
    const kt=make('text',{x:p.keyT,y:ky+6,'font-size':16.5,fill:'#000'},g);
    
    
    kt.appendChild(document.createTextNode('2 m s'));
    const ks=make('tspan',{dy:-6,'font-size':11.5},kt);
    ks.textContent='−1';
  }

  /* markers */
  cityNames.forEach((name,i)=>{
    const m=make('circle',{cx:lonX(cityLons[i]),cy:latY(cityLats[i]),r:7.6,fill:'#000',stroke:'#fff','stroke-width':1.5},g);
    
    
  });

  /* frame */
  const fr=make('rect',{x:p.x0,y:p.y0,width:p.x1-p.x0,height:p.y1-p.y0,fill:'none',stroke:'#333','stroke-width':1.1},g);
  
  

  /* lat/lon ticks */
  latTicks.forEach(t=>{
    const y=latY(t);
    const tk=make('line',{x1:p.x0-4,y1:y,x2:p.x0,y2:y,stroke:'#222','stroke-width':1},g);
    
    
    const tx=make('text',{x:p.x0-8,y:y+4,'font-size':10.6,'text-anchor':'end',fill:'#111'},g);
    
    
    tx.textContent=t+'° N';
  });
  lonTicks.forEach(t=>{
    const x=lonX(t);
    const tk=make('line',{x1:x,y1:p.y1,x2:x,y2:p.y1+4,stroke:'#222','stroke-width':1},g);
    
    
    const tx=make('text',{x:x,y:p.y1+17,'font-size':10.6,'text-anchor':'middle',fill:'#111'},g);
    
    
    tx.textContent=(-t)+'° W';
  });

  /* panel letter */
  const lt=make('text',{x:p.x0+3,y:p.y0+27,'font-size':25,'font-weight':'bold',fill:'#000'},g);
  
  
  lt.textContent='('+p.id+')';

  /* colorbar */
  const [cx0,cx1,tipT,bodyT,bodyB,tipB]=p.cb;
  const gradId='grad-'+p.id;
  const lg=make('linearGradient',{id:gradId,x1:0,y1:1,x2:0,y2:0},g);
  for(let i=0;i<=40;i++){
    make('stop',{offset:(i/40),'stop-color':colorAt(p.cmap,i/40)},lg);
  }
  const cbBody=make('rect',{x:cx0,y:bodyT,width:cx1-cx0,height:bodyB-bodyT,fill:'url(#'+gradId+')'},g);
  
  
  const tipUp=make('polygon',{points:cx0+','+bodyT+' '+(cx0+cx1)/2+','+tipT+' '+cx1+','+bodyT,fill:colorAt(p.cmap,1)},g);
  
  
  const tipDn=make('polygon',{points:cx0+','+bodyB+' '+(cx0+cx1)/2+','+tipB+' '+cx1+','+bodyB,fill:colorAt(p.cmap,0)},g);
  
  
  const cbOut=make('polygon',{points:[cx0,bodyT,(cx0+cx1)/2,tipT,cx1,bodyT,cx1,bodyB,(cx0+cx1)/2,tipB,cx0,bodyB].join(' '),fill:'none',stroke:'#333','stroke-width':.8},g);
  
  
  p.ticks.forEach(t=>{
    const y=bodyB+(bodyT-bodyB)*(t-p.vmin)/(p.vmax-p.vmin);
    const tk=make('line',{x1:cx1,y1:y,x2:cx1+4,y2:y,stroke:'#222','stroke-width':1},g);
    
    
    const tx=make('text',{x:p.tickX,y:y+5.6,'font-size':15.2,fill:'#000'},g);
    
    
    tx.textContent=(t<0?'−':'')+Math.abs(t).toFixed(p.fmt);
  });

  /* units */
  if(p.unitX!==undefined){
    const ut=make('text',{x:p.unitX,y:727,'font-size':15.2,fill:'#000'},g);
    
    
    ut.appendChild(document.createTextNode('× 10'));
    const s1=make('tspan',{dy:-6,'font-size':10.6},ut);
    s1.textContent='−5';
    const s2=make('tspan',{dy:6},ut);
    s2.textContent=' s';
    const s3=make('tspan',{dy:-6,'font-size':10.6},ut);
    s3.textContent='−1';
  } else {
    const ut=make('text',{x:p.unitK,y:1413.5,'font-size':15.2,'text-anchor':'middle',fill:'#000'},g);
    
    
    ut.textContent='K';
  }
});

/* annotations on panel a */
const annBoxes=[[136.8,324,118.2,34,196,346,'Milwaukee'],[138.5,589,96.3,34,186.6,611,'Chicago'],[388.7,657.5,60.7,34.2,419,680,'Gary']];
const annLines=[[207.4,358,275.5,394],[198.8,589,305.9,529],[410.4,657,348.4,564.5]];
const ag=document.getElementById('annotations');
annLines.forEach(l=>{
  const dx=l[2]-l[0],dy=l[3]-l[1],L=Math.hypot(dx,dy),ax=dx/L,ay=dy/L;
  const bx=l[2]-ax*9,by=l[3]-ay*9;
  const ln=make('line',{x1:l[0],y1:l[1],x2:bx,y2:by,stroke:'#000','stroke-width':2},ag);
  
  
  const hd=make('polygon',{points:l[2]+','+l[3]+' '+(bx-ay*4)+','+(by+ax*4)+' '+(bx+ay*4)+','+(by-ax*4),fill:'#000'},ag);
  
  
});
annBoxes.forEach(b=>{
  const rc=make('rect',{x:b[0],y:b[1],width:b[2],height:b[3],rx:5,fill:'#fff',stroke:'#777','stroke-width':1},ag);
  
  
  const tx=make('text',{x:b[4],y:b[5]+1,'font-size':17.3,'text-anchor':'middle',fill:'#000'},ag);
  
  
  tx.textContent=b[6];
});
</script>
</body>
</html>
